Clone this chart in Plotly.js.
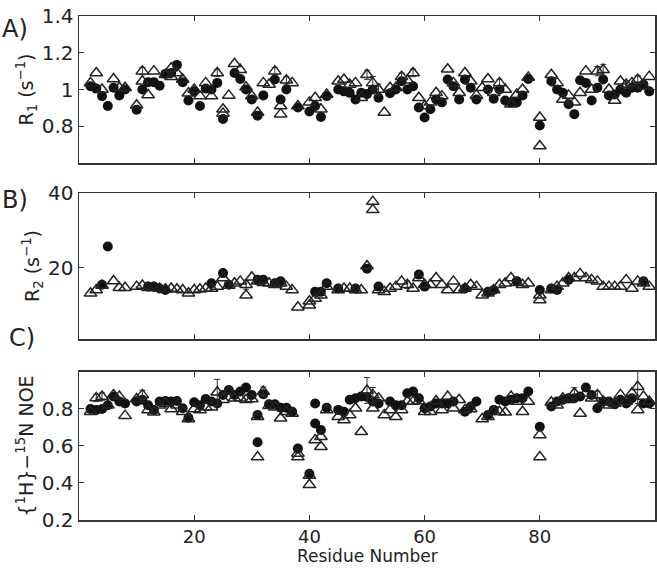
<!DOCTYPE html>
<html>
<head>
<meta charset="utf-8">
<script src="https://cdn.plot.ly/plotly-3.0.1.min.js"></script>
<style>html,body{margin:0;padding:0;background:#fff;}#plot{width:657px;height:568px;}</style>
</head>
<body>
<div id="plot"></div>
<script>
// Residue numbers
const residues = [2,3,4,5,6,7,8,9,10,11,
  12,13,14,15,16,17,18,19,20,21,
  22,23,24,25,26,27,28,29,30,31,
  32,33,34,35,36,37,38,39,40,41,
  42,43,44,45,46,47,48,49,50,51,
  52,53,54,55,56,57,58,59,60,61,
  62,63,64,65,66,67,68,69,70,71,
  72,73,74,75,76,77,78,79,80,81,
  82,83,84,85,86,87,88,89,90,91,
  92,93,94,95,96,97,98,99];

// Panel A: R1 (s^-1)
const r1Circles = [1.018,1.005,0.964,0.91,1.01,0.968,1.0,null,0.89,1.0,
  1.04,1.04,1.02,1.085,1.09,1.134,1.04,0.94,0.99,0.91,
  1.005,1.0,1.036,0.84,null,1.09,1.057,1.0,0.946,0.857,
  0.968,null,1.054,0.946,1.0,null,0.902,null,0.88,0.91,
  0.85,0.964,null,1.0,0.99,0.982,0.946,0.982,0.975,1.0,
  0.955,null,0.98,1.0,1.045,1.0,1.018,0.902,0.848,0.893,
  0.946,0.93,1.054,1.018,0.946,1.054,1.01,0.946,null,1.0,
  0.95,1.0,0.94,0.93,0.93,0.968,1.057,null,0.804,null,
  1.045,1.0,0.982,0.92,0.866,1.05,1.036,0.94,1.01,1.054,
  0.968,0.973,1.0,0.982,1.01,1.01,1.027,0.99];
const r1Triangles = [1.036,1.09,1.0,null,1.057,1.01,1.01,null,0.914,1.1,
  0.97,1.1,null,1.08,1.116,1.09,1.054,0.98,1.0,0.964,
  1.036,0.964,1.09,0.893,0.968,1.14,1.107,1.013,0.964,0.875,
  1.036,1.027,1.1,0.866,1.05,1.036,0.91,null,0.93,0.955,
  0.893,0.973,null,1.045,1.054,1.027,1.036,0.955,1.08,1.036,
  1.0,0.875,1.01,1.01,1.07,1.05,1.09,0.955,0.91,0.93,
  0.982,0.964,1.11,1.036,0.982,1.09,1.045,0.968,1.01,1.057,
  0.982,1.036,1.0,0.92,0.973,1.0,1.066,null,0.848,null,
  1.08,1.036,0.946,0.968,0.93,0.982,1.1,1.0,1.1,1.107,
  1.0,0.94,1.045,1.027,1.036,1.054,1.018,1.07];
const r1ExtraRes = [11,16,25,35,80];
const r1ExtraTri = [1.045,1.07,0.87,0.91,0.693];
const r1ErrRes = [11,24,34,36,50,51,52,56,58,73,90,91,95,97];
const r1Err = [0.02,0.02,0.02,0.02,0.025,0.035,0.03,0.02,0.02,0.02,0.025,0.03,0.02,0.02];

// Panel B: R2 (s^-1)
const r2Circles = [null,null,15.5,25.7,null,null,null,null,null,null,
  15.0,15.0,14.5,14.1,null,null,null,null,null,null,
  null,15.9,null,18.6,15.5,null,null,null,null,16.8,
  16.8,null,15.9,16.4,null,null,null,null,null,13.6,
  13.6,15.9,null,14.5,null,null,14.5,null,19.8,null,
  15.0,null,null,null,null,null,null,18.2,15.0,null,
  null,null,null,null,null,14.5,null,null,null,13.6,
  14.1,null,null,null,16.4,null,null,null,14.1,null,
  14.5,14.1,null,16.8,null,null,null,null,null,null,
  null,null,null,null,null,null,16.4,null];
const r2Triangles = [13.2,14.1,15.3,null,16.5,14.7,14.7,null,15.0,15.3,
  14.7,14.7,14.5,14.3,14.5,14.3,14.1,13.2,14.1,14.3,
  14.5,14.5,15.0,17.3,15.3,15.9,16.4,15.5,17.5,16.4,
  16.0,15.9,15.5,15.9,15.0,14.1,9.5,null,10.0,11.8,
  12.7,15.0,null,14.1,14.5,14.5,14.1,14.1,20.5,37.7,
  14.1,13.6,14.5,15.0,16.4,15.5,14.5,17.3,15.5,15.5,
  17.3,15.5,14.1,16.4,14.1,14.5,15.5,15.0,12.7,13.2,
  14.1,15.5,15.9,17.3,16.0,15.5,15.9,null,12.7,null,
  14.1,15.0,15.9,17.3,17.3,18.4,17.3,16.8,16.4,15.0,
  15.0,15.0,15.0,16.8,14.5,16.4,15.9,15.0];
const r2ExtraRes = [29,40,51,80];
const r2ExtraTri = [12.7,11.1,35.5,11.4];
const r2ErrRes = [29,57];
const r2Err = [1.2,1.0];

// Panel C: {1H}-15N NOE
const noeCircles = [0.80,0.795,0.80,0.82,0.867,0.84,0.83,null,0.84,0.85,
  0.82,0.795,0.84,0.843,0.84,0.843,0.804,0.753,0.836,0.82,
  0.854,0.84,0.83,0.876,0.903,0.876,0.894,0.916,0.876,0.767,
  0.88,0.825,0.825,0.807,0.807,0.785,0.586,null,0.45,0.83,
  0.686,0.807,null,0.795,0.785,0.85,0.858,0.867,0.865,0.84,
  0.83,null,0.84,0.82,0.82,0.885,0.894,0.858,0.804,0.813,
  0.83,0.83,0.83,0.84,null,0.785,0.813,0.84,null,0.767,
  0.795,0.85,0.84,0.85,0.858,0.858,0.894,null,0.704,null,
  0.813,0.84,0.85,0.858,0.858,0.867,0.916,0.876,0.804,0.84,
  0.84,0.825,0.85,0.83,0.858,null,0.83,0.83];
const noeTriangles = [0.785,0.86,0.867,0.82,0.876,0.867,0.764,null,0.854,0.876,
  0.795,0.782,0.82,0.83,0.80,0.82,0.785,0.746,0.80,0.795,
  0.81,0.81,0.89,0.85,0.894,0.858,0.858,0.85,0.854,0.758,
  0.894,0.818,0.81,0.75,0.785,0.776,0.56,null,0.44,0.632,
  0.65,0.795,null,0.758,0.74,0.767,0.804,0.677,0.9,0.876,
  0.858,0.767,0.795,0.758,0.795,0.84,0.84,0.843,0.785,0.785,
  0.843,0.795,0.867,0.804,0.85,0.795,0.80,null,0.746,0.758,
  0.785,0.785,0.782,0.867,0.84,0.785,0.84,null,0.66,null,
  0.836,0.82,0.858,0.85,0.885,0.776,0.885,0.858,0.876,0.84,
  0.82,0.83,0.876,0.84,0.885,0.92,0.867,0.84];
const noeExtraCircRes = [31,41];
const noeExtraCirc = [0.62,0.722];
const noeExtraTriRes = [31,38,40,42,51,80,97];
const noeExtraTri = [0.54,0.54,0.39,0.596,0.804,0.54,0.795];
const noeErrRes = [3,4,11,24,32,50,51,86,90,97];
const noeErr = [0.02,0.02,0.025,0.07,0.025,0.07,0.04,0.03,0.02,0.09];

const xTicks = [20,40,60,80];
const xTitle = 'Residue Number';

const INK = '#111111';
const circ = {symbol:'circle', size:10, color:INK, line:{width:0}};
const tri = {symbol:'triangle-up-open', size:11, color:'#222222', line:{width:1.5}};

function lookup(resList, vals, r) { return vals[resList.indexOf(r)]; }

function panel(xa, ya, circles, triangles, extraCircRes, extraCirc, extraTriRes, extraTri, errRes, err) {
  const out = [];
  out.push({type:'scatter', mode:'markers', x:residues, y:circles, xaxis:xa, yaxis:ya, marker:circ, showlegend:false, hoverinfo:'x+y'});
  if (extraCircRes) out.push({type:'scatter', mode:'markers', x:extraCircRes, y:extraCirc, xaxis:xa, yaxis:ya, marker:circ, showlegend:false});
  out.push({type:'scatter', mode:'markers', x:errRes, y:errRes.map(r => lookup(residues, triangles, r)), xaxis:xa, yaxis:ya,
    marker:{size:1, color:'rgba(0,0,0,0)'}, showlegend:false, hoverinfo:'skip',
    error_y:{type:'data', array:err, visible:true, color:'#333333', thickness:1, width:3}});
  out.push({type:'scatter', mode:'markers', x:residues, y:triangles, xaxis:xa, yaxis:ya, marker:tri, showlegend:false});
  if (extraTriRes) out.push({type:'scatter', mode:'markers', x:extraTriRes, y:extraTri, xaxis:xa, yaxis:ya, marker:tri, showlegend:false});
  return out;
}

const data = [].concat(
  panel('x','y', r1Circles, r1Triangles, null, null, r1ExtraRes, r1ExtraTri, r1ErrRes, r1Err),
  panel('x2','y2', r2Circles, r2Triangles, null, null, r2ExtraRes, r2ExtraTri, r2ErrRes, r2Err),
  panel('x3','y3', noeCircles, noeTriangles, noeExtraCircRes, noeExtraCirc, noeExtraTriRes, noeExtraTri, noeErrRes, noeErr)
);

const FONT = 'DejaVu Sans, Liberation Sans, Arial, sans-serif';
const axBase = {showline:true, linecolor:'#333', linewidth:1.5, mirror:'ticks', ticks:'inside', ticklen:5,
  tickcolor:'#333', tickwidth:1, showgrid:false, zeroline:false, tickfont:{family:FONT, size:20, color:'#222'}};

function xax(anchor, labels) {
  const a = Object.assign({}, axBase, {anchor:anchor, range:[0,100], tickvals:xTicks, ticktext:xTicks.map(String), showticklabels:labels});
  if (labels) {
    a.tickfont = {family:FONT, size:18, color:'#222'};
    a.ticklabelstandoff = 0;
  }
  return a;
}
function yax(anchor, dom, range, tv, tt, title) {
  return Object.assign({}, axBase, {anchor:anchor, domain:dom, range:range, tickvals:tv, ticktext:tt,
    title:{text:title, font:{family:FONT, size:19, color:'#222'}, standoff:3}});
}

const layout = {
  width:657, height:568,
  margin:{l:79, r:2, t:16, b:48},
  paper_bgcolor:'#fff', plot_bgcolor:'#fff',
  font:{family:FONT, size:19, color:'#222'},
  xaxis: xax('y', false),
  xaxis2: xax('y2', false),
  xaxis3: xax('y3', true),
  yaxis: yax('x', [0.7083,1], [0.6,1.4], [0.8,1,1.2,1.4], ['0.8','1','1.2','1.4'], 'R<sub>1</sub> (s<sup>−1</sup>)'),
  yaxis2: yax('x2', [0.3591,0.6488], [1,40], [20,40], ['20','40'], 'R<sub>2</sub> (s<sup>−1</sup>)'),
  yaxis3: yax('x3', [0,0.2937], [0.2,1.0], [0.2,0.4,0.6,0.8], ['0.2','0.4','0.6','0.8'], '{<sup>1</sup>H}−<sup>15</sup>N NOE'),
  annotations:[
    {text:xTitle, xref:'paper', yref:'paper', x:0.5, y:-0.0935, yanchor:'bottom', borderpad:0, showarrow:false, font:{family:FONT, size:17, color:'#222'}},
    {text:'A)', xref:'paper', yref:'paper', x:-0.137, xanchor:'left', y:1.005, showarrow:false, font:{family:FONT, size:24, color:'#222'}},
    {text:'B)', xref:'paper', yref:'paper', x:-0.137, xanchor:'left', y:0.667, showarrow:false, font:{family:FONT, size:24, color:'#222'}},
    {text:'C)', xref:'paper', yref:'paper', x:-0.125, xanchor:'left', y:0.33, showarrow:false, font:{family:FONT, size:24, color:'#222'}}
  ]
};

Plotly.newPlot('plot', data, layout, {displayModeBar:false, staticPlot:true});
</script>
</body>
</html>
